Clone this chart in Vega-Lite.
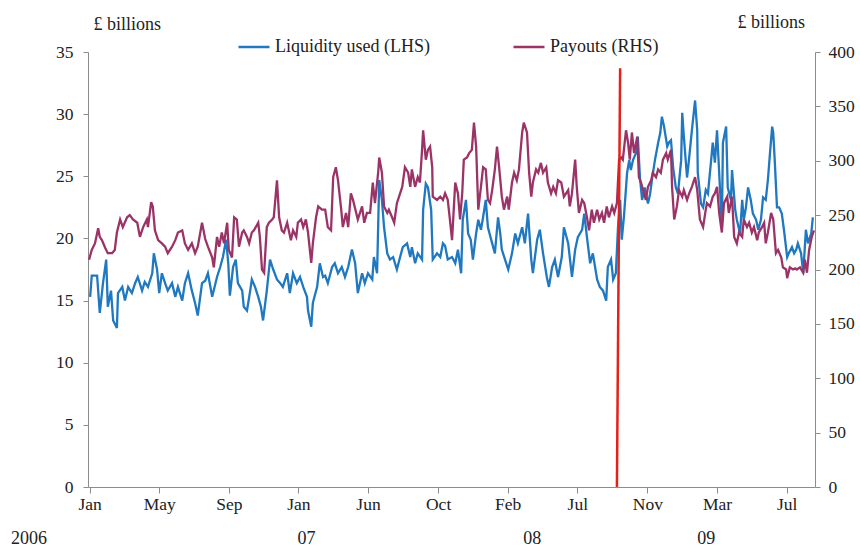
{
  "$schema": "https://vega.github.io/schema/vega-lite/v6.json",
  "width": 727,
  "height": 435,
  "autosize": {"type": "none"},
  "padding": {"left": 88, "top": 52, "right": 45, "bottom": 62},
  "background": "white",
  "config": {
    "view": {"stroke": null},
    "axis": {
      "labelFont": "Liberation Serif",
      "titleFont": "Liberation Serif",
      "labelFontSize": 17.5,
      "titleFontSize": 18,
      "labelColor": "#222222",
      "titleColor": "#222222",
      "titleFontWeight": "normal",
      "domainColor": "#8c8c8c",
      "tickColor": "#8c8c8c",
      "grid": false
    }
  },
  "datasets": {
    "liquidity": [
      {"date": "2006-01-05", "value": 15.3}, {"date": "2006-01-08", "value": 17.0}, {"date": "2006-01-18", "value": 17.0}, {"date": "2006-01-23", "value": 14.0},
      {"date": "2006-01-29", "value": 16.4}, {"date": "2006-02-04", "value": 18.3}, {"date": "2006-02-07", "value": 14.5}, {"date": "2006-02-13", "value": 15.8},
      {"date": "2006-02-17", "value": 13.4}, {"date": "2006-02-24", "value": 12.8}, {"date": "2006-02-26", "value": 15.6}, {"date": "2006-03-06", "value": 16.1},
      {"date": "2006-03-11", "value": 15.0}, {"date": "2006-03-17", "value": 16.1}, {"date": "2006-03-24", "value": 15.6}, {"date": "2006-03-30", "value": 16.4},
      {"date": "2006-04-04", "value": 16.9}, {"date": "2006-04-12", "value": 15.8}, {"date": "2006-04-17", "value": 16.5}, {"date": "2006-04-23", "value": 16.1},
      {"date": "2006-05-01", "value": 17.2}, {"date": "2006-05-04", "value": 18.8}, {"date": "2006-05-10", "value": 17.5}, {"date": "2006-05-14", "value": 15.6},
      {"date": "2006-05-19", "value": 17.2}, {"date": "2006-05-25", "value": 16.4}, {"date": "2006-05-30", "value": 15.8}, {"date": "2006-06-07", "value": 16.4},
      {"date": "2006-06-13", "value": 15.3}, {"date": "2006-06-18", "value": 16.1}, {"date": "2006-06-26", "value": 15.0}, {"date": "2006-07-01", "value": 16.4},
      {"date": "2006-07-07", "value": 17.2}, {"date": "2006-07-14", "value": 15.8}, {"date": "2006-07-20", "value": 14.8}, {"date": "2006-07-25", "value": 13.8},
      {"date": "2006-08-02", "value": 16.4}, {"date": "2006-08-08", "value": 16.6}, {"date": "2006-08-13", "value": 17.2}, {"date": "2006-08-21", "value": 15.3},
      {"date": "2006-08-30", "value": 16.9}, {"date": "2006-09-05", "value": 17.7}, {"date": "2006-09-10", "value": 18.5}, {"date": "2006-09-16", "value": 19.9},
      {"date": "2006-09-20", "value": 18.0}, {"date": "2006-09-23", "value": 15.4}, {"date": "2006-09-29", "value": 17.7}, {"date": "2006-10-04", "value": 18.3},
      {"date": "2006-10-08", "value": 16.4}, {"date": "2006-10-16", "value": 15.8}, {"date": "2006-10-19", "value": 14.5}, {"date": "2006-10-25", "value": 14.2},
      {"date": "2006-10-31", "value": 15.8}, {"date": "2006-11-03", "value": 16.7}, {"date": "2006-11-09", "value": 16.1}, {"date": "2006-11-15", "value": 15.3},
      {"date": "2006-11-20", "value": 14.5}, {"date": "2006-11-24", "value": 13.4}, {"date": "2006-12-01", "value": 15.8}, {"date": "2006-12-07", "value": 18.3},
      {"date": "2006-12-13", "value": 17.5}, {"date": "2006-12-20", "value": 16.7}, {"date": "2006-12-26", "value": 16.4}, {"date": "2006-12-31", "value": 16.1},
      {"date": "2007-01-08", "value": 17.2}, {"date": "2007-01-13", "value": 15.6}, {"date": "2007-01-19", "value": 17.2}, {"date": "2007-01-26", "value": 16.4},
      {"date": "2007-02-01", "value": 16.9}, {"date": "2007-02-07", "value": 16.1}, {"date": "2007-02-14", "value": 15.3}, {"date": "2007-02-16", "value": 14.2},
      {"date": "2007-02-22", "value": 12.9}, {"date": "2007-02-25", "value": 14.8}, {"date": "2007-03-05", "value": 16.1}, {"date": "2007-03-10", "value": 18.0},
      {"date": "2007-03-16", "value": 16.9}, {"date": "2007-03-20", "value": 17.0}, {"date": "2007-03-25", "value": 16.4}, {"date": "2007-04-02", "value": 17.7},
      {"date": "2007-04-07", "value": 18.0}, {"date": "2007-04-13", "value": 17.2}, {"date": "2007-04-20", "value": 17.7}, {"date": "2007-04-26", "value": 16.9},
      {"date": "2007-05-02", "value": 17.7}, {"date": "2007-05-09", "value": 19.1}, {"date": "2007-05-15", "value": 18.0}, {"date": "2007-05-20", "value": 15.6},
      {"date": "2007-05-28", "value": 17.2}, {"date": "2007-06-02", "value": 16.4}, {"date": "2007-06-08", "value": 17.2}, {"date": "2007-06-16", "value": 16.7},
      {"date": "2007-06-19", "value": 18.5}, {"date": "2007-06-25", "value": 17.2}, {"date": "2007-06-29", "value": 24.7}, {"date": "2007-07-04", "value": 23.1},
      {"date": "2007-07-08", "value": 20.9}, {"date": "2007-07-14", "value": 18.8}, {"date": "2007-07-19", "value": 18.3}, {"date": "2007-07-25", "value": 18.5},
      {"date": "2007-08-01", "value": 17.5}, {"date": "2007-08-07", "value": 18.5}, {"date": "2007-08-12", "value": 19.3}, {"date": "2007-08-20", "value": 19.6},
      {"date": "2007-08-26", "value": 18.5}, {"date": "2007-08-29", "value": 19.3}, {"date": "2007-09-04", "value": 18.0}, {"date": "2007-09-09", "value": 18.8},
      {"date": "2007-09-17", "value": 18.3}, {"date": "2007-09-19", "value": 22.3}, {"date": "2007-09-24", "value": 24.4}, {"date": "2007-09-28", "value": 24.1},
      {"date": "2007-10-04", "value": 22.3}, {"date": "2007-10-07", "value": 18.3}, {"date": "2007-10-15", "value": 18.8}, {"date": "2007-10-21", "value": 18.5},
      {"date": "2007-10-26", "value": 19.6}, {"date": "2007-10-30", "value": 19.4}, {"date": "2007-11-04", "value": 18.3}, {"date": "2007-11-12", "value": 18.5},
      {"date": "2007-11-18", "value": 18.0}, {"date": "2007-11-23", "value": 19.1}, {"date": "2007-11-29", "value": 17.2}, {"date": "2007-12-02", "value": 21.5},
      {"date": "2007-12-08", "value": 23.1}, {"date": "2007-12-12", "value": 20.4}, {"date": "2007-12-17", "value": 19.9}, {"date": "2007-12-21", "value": 18.3},
      {"date": "2007-12-27", "value": 20.4}, {"date": "2007-12-31", "value": 21.5}, {"date": "2008-01-05", "value": 20.7}, {"date": "2008-01-09", "value": 21.7},
      {"date": "2008-01-14", "value": 23.1}, {"date": "2008-01-18", "value": 20.9}, {"date": "2008-01-26", "value": 19.6}, {"date": "2008-01-31", "value": 18.8},
      {"date": "2008-02-06", "value": 21.7}, {"date": "2008-02-10", "value": 20.4}, {"date": "2008-02-13", "value": 19.1}, {"date": "2008-02-19", "value": 18.3},
      {"date": "2008-02-25", "value": 17.5}, {"date": "2008-03-03", "value": 18.8}, {"date": "2008-03-09", "value": 20.4}, {"date": "2008-03-14", "value": 19.6},
      {"date": "2008-03-22", "value": 20.9}, {"date": "2008-03-27", "value": 19.6}, {"date": "2008-04-02", "value": 22.0}, {"date": "2008-04-08", "value": 18.3},
      {"date": "2008-04-11", "value": 17.2}, {"date": "2008-04-19", "value": 19.9}, {"date": "2008-04-24", "value": 20.7}, {"date": "2008-04-30", "value": 18.8},
      {"date": "2008-05-07", "value": 16.9}, {"date": "2008-05-11", "value": 16.1}, {"date": "2008-05-17", "value": 17.7}, {"date": "2008-05-22", "value": 18.3},
      {"date": "2008-05-28", "value": 16.9}, {"date": "2008-06-04", "value": 18.5}, {"date": "2008-06-08", "value": 20.9}, {"date": "2008-06-16", "value": 19.6},
      {"date": "2008-06-23", "value": 16.9}, {"date": "2008-06-29", "value": 19.1}, {"date": "2008-07-04", "value": 20.1}, {"date": "2008-07-12", "value": 20.7},
      {"date": "2008-07-16", "value": 22.0}, {"date": "2008-07-21", "value": 20.1}, {"date": "2008-07-27", "value": 18.0}, {"date": "2008-08-01", "value": 18.8},
      {"date": "2008-08-09", "value": 16.7}, {"date": "2008-08-14", "value": 16.1}, {"date": "2008-08-20", "value": 15.8}, {"date": "2008-08-26", "value": 15.0},
      {"date": "2008-08-29", "value": 17.7}, {"date": "2008-09-04", "value": 18.3}, {"date": "2008-09-08", "value": 16.7}, {"date": "2008-09-13", "value": 17.2},
      {"date": "2008-09-17", "value": 20.9}, {"date": "2008-09-21", "value": 23.1}, {"date": "2008-09-24", "value": 19.9}, {"date": "2008-09-28", "value": 21.7},
      {"date": "2008-10-04", "value": 25.3}, {"date": "2008-10-08", "value": 26.3}, {"date": "2008-10-11", "value": 25.5}, {"date": "2008-10-15", "value": 26.3},
      {"date": "2008-10-21", "value": 26.9}, {"date": "2008-10-24", "value": 28.2}, {"date": "2008-10-28", "value": 24.9}, {"date": "2008-11-01", "value": 23.1},
      {"date": "2008-11-06", "value": 24.1}, {"date": "2008-11-12", "value": 22.8}, {"date": "2008-11-16", "value": 23.6}, {"date": "2008-11-20", "value": 24.9},
      {"date": "2008-11-25", "value": 26.3}, {"date": "2008-12-01", "value": 27.7}, {"date": "2008-12-05", "value": 28.5}, {"date": "2008-12-08", "value": 29.8},
      {"date": "2008-12-12", "value": 29.0}, {"date": "2008-12-18", "value": 27.4}, {"date": "2008-12-21", "value": 27.7}, {"date": "2008-12-25", "value": 27.9},
      {"date": "2008-12-29", "value": 25.7}, {"date": "2009-01-03", "value": 24.1}, {"date": "2009-01-07", "value": 23.6}, {"date": "2009-01-13", "value": 26.3},
      {"date": "2009-01-15", "value": 30.1}, {"date": "2009-01-18", "value": 28.2}, {"date": "2009-01-24", "value": 24.9}, {"date": "2009-01-28", "value": 26.5},
      {"date": "2009-02-02", "value": 28.7}, {"date": "2009-02-08", "value": 31.1}, {"date": "2009-02-12", "value": 28.7}, {"date": "2009-02-13", "value": 25.3},
      {"date": "2009-02-19", "value": 22.8}, {"date": "2009-02-23", "value": 22.5}, {"date": "2009-02-28", "value": 23.9}, {"date": "2009-03-04", "value": 23.6},
      {"date": "2009-03-10", "value": 26.3}, {"date": "2009-03-13", "value": 27.7}, {"date": "2009-03-17", "value": 26.1}, {"date": "2009-03-21", "value": 28.7},
      {"date": "2009-03-25", "value": 25.3}, {"date": "2009-03-30", "value": 20.9}, {"date": "2009-04-01", "value": 27.7}, {"date": "2009-04-07", "value": 29.0},
      {"date": "2009-04-10", "value": 24.1}, {"date": "2009-04-16", "value": 23.1}, {"date": "2009-04-18", "value": 25.5}, {"date": "2009-04-24", "value": 22.3},
      {"date": "2009-04-27", "value": 21.5}, {"date": "2009-05-03", "value": 20.4}, {"date": "2009-05-07", "value": 23.1}, {"date": "2009-05-10", "value": 21.5},
      {"date": "2009-05-14", "value": 22.5}, {"date": "2009-05-18", "value": 24.1}, {"date": "2009-05-23", "value": 23.1}, {"date": "2009-05-27", "value": 22.0},
      {"date": "2009-06-02", "value": 21.5}, {"date": "2009-06-06", "value": 20.7}, {"date": "2009-06-11", "value": 21.5}, {"date": "2009-06-15", "value": 23.3},
      {"date": "2009-06-20", "value": 23.1}, {"date": "2009-06-24", "value": 24.7}, {"date": "2009-06-28", "value": 26.9}, {"date": "2009-07-02", "value": 29.0},
      {"date": "2009-07-04", "value": 28.5}, {"date": "2009-07-07", "value": 26.1}, {"date": "2009-07-11", "value": 22.5}, {"date": "2009-07-15", "value": 22.5},
      {"date": "2009-07-20", "value": 22.0}, {"date": "2009-07-24", "value": 20.7}, {"date": "2009-07-30", "value": 18.5}, {"date": "2009-08-02", "value": 18.8},
      {"date": "2009-08-08", "value": 19.3}, {"date": "2009-08-12", "value": 18.8}, {"date": "2009-08-16", "value": 19.1}, {"date": "2009-08-19", "value": 19.6},
      {"date": "2009-08-25", "value": 18.8}, {"date": "2009-08-29", "value": 17.2}, {"date": "2009-09-03", "value": 20.7}, {"date": "2009-09-07", "value": 19.6},
      {"date": "2009-09-13", "value": 20.4}, {"date": "2009-09-16", "value": 21.7}
    ],
    "payouts": [
      {"date": "2006-01-03", "value": 209}, {"date": "2006-01-08", "value": 218}, {"date": "2006-01-14", "value": 224}, {"date": "2006-01-20", "value": 238},
      {"date": "2006-01-23", "value": 230}, {"date": "2006-01-27", "value": 227}, {"date": "2006-02-02", "value": 220}, {"date": "2006-02-07", "value": 215},
      {"date": "2006-02-15", "value": 215}, {"date": "2006-02-20", "value": 218}, {"date": "2006-02-24", "value": 234}, {"date": "2006-03-02", "value": 246},
      {"date": "2006-03-07", "value": 239}, {"date": "2006-03-15", "value": 248}, {"date": "2006-03-20", "value": 250}, {"date": "2006-03-26", "value": 246},
      {"date": "2006-04-03", "value": 243}, {"date": "2006-04-08", "value": 230}, {"date": "2006-04-14", "value": 239}, {"date": "2006-04-21", "value": 246},
      {"date": "2006-04-23", "value": 239}, {"date": "2006-04-29", "value": 262}, {"date": "2006-05-02", "value": 258}, {"date": "2006-05-06", "value": 236},
      {"date": "2006-05-12", "value": 227}, {"date": "2006-05-19", "value": 224}, {"date": "2006-05-25", "value": 221}, {"date": "2006-05-30", "value": 215},
      {"date": "2006-06-07", "value": 221}, {"date": "2006-06-13", "value": 227}, {"date": "2006-06-18", "value": 234}, {"date": "2006-06-26", "value": 236},
      {"date": "2006-07-01", "value": 224}, {"date": "2006-07-07", "value": 218}, {"date": "2006-07-14", "value": 224}, {"date": "2006-07-20", "value": 215},
      {"date": "2006-07-25", "value": 221}, {"date": "2006-08-02", "value": 243}, {"date": "2006-08-08", "value": 228}, {"date": "2006-08-13", "value": 221},
      {"date": "2006-08-21", "value": 211}, {"date": "2006-08-24", "value": 202}, {"date": "2006-08-30", "value": 230}, {"date": "2006-09-03", "value": 221},
      {"date": "2006-09-08", "value": 234}, {"date": "2006-09-12", "value": 224}, {"date": "2006-09-18", "value": 243}, {"date": "2006-09-21", "value": 218},
      {"date": "2006-09-27", "value": 211}, {"date": "2006-10-01", "value": 248}, {"date": "2006-10-06", "value": 246}, {"date": "2006-10-10", "value": 221},
      {"date": "2006-10-16", "value": 234}, {"date": "2006-10-19", "value": 236}, {"date": "2006-10-25", "value": 230}, {"date": "2006-10-29", "value": 224},
      {"date": "2006-11-03", "value": 234}, {"date": "2006-11-07", "value": 236}, {"date": "2006-11-15", "value": 243}, {"date": "2006-11-18", "value": 230},
      {"date": "2006-11-22", "value": 200}, {"date": "2006-11-26", "value": 197}, {"date": "2006-12-01", "value": 239}, {"date": "2006-12-05", "value": 243},
      {"date": "2006-12-11", "value": 246}, {"date": "2006-12-14", "value": 248}, {"date": "2006-12-20", "value": 282}, {"date": "2006-12-24", "value": 248},
      {"date": "2006-12-29", "value": 236}, {"date": "2007-01-02", "value": 234}, {"date": "2007-01-08", "value": 243}, {"date": "2007-01-11", "value": 236},
      {"date": "2007-01-15", "value": 227}, {"date": "2007-01-19", "value": 236}, {"date": "2007-01-25", "value": 230}, {"date": "2007-01-28", "value": 243},
      {"date": "2007-02-03", "value": 246}, {"date": "2007-02-07", "value": 239}, {"date": "2007-02-12", "value": 246}, {"date": "2007-02-16", "value": 234},
      {"date": "2007-02-22", "value": 206}, {"date": "2007-02-25", "value": 224}, {"date": "2007-03-03", "value": 248}, {"date": "2007-03-07", "value": 258},
      {"date": "2007-03-14", "value": 255}, {"date": "2007-03-20", "value": 255}, {"date": "2007-03-25", "value": 239}, {"date": "2007-03-31", "value": 236},
      {"date": "2007-04-04", "value": 285}, {"date": "2007-04-09", "value": 294}, {"date": "2007-04-13", "value": 282}, {"date": "2007-04-19", "value": 255},
      {"date": "2007-04-22", "value": 239}, {"date": "2007-04-28", "value": 252}, {"date": "2007-05-02", "value": 239}, {"date": "2007-05-07", "value": 270},
      {"date": "2007-05-11", "value": 264}, {"date": "2007-05-17", "value": 252}, {"date": "2007-05-20", "value": 246}, {"date": "2007-05-28", "value": 258},
      {"date": "2007-06-01", "value": 243}, {"date": "2007-06-06", "value": 252}, {"date": "2007-06-12", "value": 252}, {"date": "2007-06-17", "value": 280},
      {"date": "2007-06-21", "value": 261}, {"date": "2007-06-27", "value": 289}, {"date": "2007-06-29", "value": 303}, {"date": "2007-07-04", "value": 289},
      {"date": "2007-07-08", "value": 258}, {"date": "2007-07-14", "value": 252}, {"date": "2007-07-17", "value": 255}, {"date": "2007-07-23", "value": 248},
      {"date": "2007-07-27", "value": 243}, {"date": "2007-08-01", "value": 261}, {"date": "2007-08-05", "value": 267}, {"date": "2007-08-11", "value": 276},
      {"date": "2007-08-16", "value": 294}, {"date": "2007-08-22", "value": 289}, {"date": "2007-08-26", "value": 276}, {"date": "2007-08-29", "value": 292},
      {"date": "2007-09-04", "value": 276}, {"date": "2007-09-09", "value": 285}, {"date": "2007-09-13", "value": 280}, {"date": "2007-09-17", "value": 310},
      {"date": "2007-09-19", "value": 328}, {"date": "2007-09-24", "value": 301}, {"date": "2007-09-28", "value": 310}, {"date": "2007-10-02", "value": 313},
      {"date": "2007-10-06", "value": 294}, {"date": "2007-10-07", "value": 267}, {"date": "2007-10-15", "value": 264}, {"date": "2007-10-21", "value": 267},
      {"date": "2007-10-26", "value": 264}, {"date": "2007-10-30", "value": 270}, {"date": "2007-11-04", "value": 264}, {"date": "2007-11-08", "value": 246},
      {"date": "2007-11-12", "value": 227}, {"date": "2007-11-18", "value": 280}, {"date": "2007-11-23", "value": 270}, {"date": "2007-11-27", "value": 246},
      {"date": "2007-12-01", "value": 270}, {"date": "2007-12-04", "value": 301}, {"date": "2007-12-10", "value": 303}, {"date": "2007-12-14", "value": 307},
      {"date": "2007-12-19", "value": 310}, {"date": "2007-12-23", "value": 335}, {"date": "2007-12-27", "value": 313}, {"date": "2007-12-31", "value": 255},
      {"date": "2008-01-05", "value": 276}, {"date": "2008-01-09", "value": 294}, {"date": "2008-01-14", "value": 292}, {"date": "2008-01-18", "value": 264},
      {"date": "2008-01-22", "value": 261}, {"date": "2008-01-26", "value": 273}, {"date": "2008-01-31", "value": 292}, {"date": "2008-02-04", "value": 313},
      {"date": "2008-02-08", "value": 294}, {"date": "2008-02-13", "value": 267}, {"date": "2008-02-17", "value": 255}, {"date": "2008-02-23", "value": 267},
      {"date": "2008-02-26", "value": 255}, {"date": "2008-03-03", "value": 280}, {"date": "2008-03-07", "value": 289}, {"date": "2008-03-12", "value": 282},
      {"date": "2008-03-16", "value": 292}, {"date": "2008-03-22", "value": 326}, {"date": "2008-03-25", "value": 335}, {"date": "2008-03-31", "value": 326},
      {"date": "2008-04-04", "value": 289}, {"date": "2008-04-08", "value": 267}, {"date": "2008-04-11", "value": 280}, {"date": "2008-04-17", "value": 292},
      {"date": "2008-04-21", "value": 289}, {"date": "2008-04-26", "value": 298}, {"date": "2008-04-30", "value": 289}, {"date": "2008-05-06", "value": 294},
      {"date": "2008-05-09", "value": 280}, {"date": "2008-05-15", "value": 270}, {"date": "2008-05-19", "value": 276}, {"date": "2008-05-24", "value": 270},
      {"date": "2008-05-28", "value": 282}, {"date": "2008-06-03", "value": 280}, {"date": "2008-06-08", "value": 267}, {"date": "2008-06-16", "value": 273},
      {"date": "2008-06-19", "value": 258}, {"date": "2008-06-23", "value": 270}, {"date": "2008-06-29", "value": 301}, {"date": "2008-07-02", "value": 276},
      {"date": "2008-07-06", "value": 252}, {"date": "2008-07-12", "value": 264}, {"date": "2008-07-16", "value": 261}, {"date": "2008-07-21", "value": 248},
      {"date": "2008-07-25", "value": 236}, {"date": "2008-07-30", "value": 255}, {"date": "2008-08-03", "value": 243}, {"date": "2008-08-09", "value": 255},
      {"date": "2008-08-13", "value": 246}, {"date": "2008-08-18", "value": 252}, {"date": "2008-08-22", "value": 243}, {"date": "2008-08-27", "value": 258},
      {"date": "2008-08-31", "value": 248}, {"date": "2008-09-06", "value": 258}, {"date": "2008-09-10", "value": 252}, {"date": "2008-09-15", "value": 261},
      {"date": "2008-09-19", "value": 301}, {"date": "2008-09-23", "value": 303}, {"date": "2008-09-26", "value": 301}, {"date": "2008-10-02", "value": 328},
      {"date": "2008-10-06", "value": 316}, {"date": "2008-10-09", "value": 301}, {"date": "2008-10-13", "value": 326}, {"date": "2008-10-17", "value": 307},
      {"date": "2008-10-23", "value": 322}, {"date": "2008-10-26", "value": 285}, {"date": "2008-10-30", "value": 280}, {"date": "2008-11-03", "value": 273},
      {"date": "2008-11-08", "value": 264}, {"date": "2008-11-12", "value": 276}, {"date": "2008-11-18", "value": 282}, {"date": "2008-11-21", "value": 289},
      {"date": "2008-11-27", "value": 285}, {"date": "2008-12-01", "value": 292}, {"date": "2008-12-06", "value": 289}, {"date": "2008-12-10", "value": 301},
      {"date": "2008-12-16", "value": 307}, {"date": "2008-12-19", "value": 301}, {"date": "2008-12-25", "value": 310}, {"date": "2008-12-27", "value": 276},
      {"date": "2008-12-31", "value": 246}, {"date": "2009-01-05", "value": 258}, {"date": "2009-01-09", "value": 273}, {"date": "2009-01-15", "value": 267},
      {"date": "2009-01-18", "value": 273}, {"date": "2009-01-24", "value": 264}, {"date": "2009-01-28", "value": 270}, {"date": "2009-02-02", "value": 276},
      {"date": "2009-02-08", "value": 285}, {"date": "2009-02-12", "value": 273}, {"date": "2009-02-17", "value": 246}, {"date": "2009-02-23", "value": 239},
      {"date": "2009-02-27", "value": 252}, {"date": "2009-03-02", "value": 261}, {"date": "2009-03-08", "value": 258}, {"date": "2009-03-13", "value": 267},
      {"date": "2009-03-17", "value": 270}, {"date": "2009-03-21", "value": 276}, {"date": "2009-03-25", "value": 252}, {"date": "2009-03-30", "value": 234},
      {"date": "2009-04-03", "value": 261}, {"date": "2009-04-09", "value": 267}, {"date": "2009-04-12", "value": 252}, {"date": "2009-04-18", "value": 267},
      {"date": "2009-04-22", "value": 230}, {"date": "2009-04-27", "value": 224}, {"date": "2009-05-01", "value": 234}, {"date": "2009-05-07", "value": 230},
      {"date": "2009-05-10", "value": 246}, {"date": "2009-05-16", "value": 239}, {"date": "2009-05-20", "value": 243}, {"date": "2009-05-25", "value": 234},
      {"date": "2009-05-29", "value": 239}, {"date": "2009-06-04", "value": 227}, {"date": "2009-06-07", "value": 234}, {"date": "2009-06-13", "value": 239},
      {"date": "2009-06-17", "value": 243}, {"date": "2009-06-20", "value": 224}, {"date": "2009-06-24", "value": 234}, {"date": "2009-06-30", "value": 252},
      {"date": "2009-07-04", "value": 246}, {"date": "2009-07-09", "value": 215}, {"date": "2009-07-13", "value": 218}, {"date": "2009-07-19", "value": 211},
      {"date": "2009-07-22", "value": 202}, {"date": "2009-07-28", "value": 200}, {"date": "2009-07-30", "value": 192}, {"date": "2009-08-04", "value": 202},
      {"date": "2009-08-10", "value": 200}, {"date": "2009-08-14", "value": 201}, {"date": "2009-08-17", "value": 200}, {"date": "2009-08-23", "value": 202},
      {"date": "2009-08-29", "value": 197}, {"date": "2009-09-01", "value": 209}, {"date": "2009-09-05", "value": 197}, {"date": "2009-09-09", "value": 218},
      {"date": "2009-09-14", "value": 230}, {"date": "2009-09-18", "value": 236}
    ],
    "marker": [
      {"top": "2008-09-21", "bottom": "2008-09-15", "ytop": 33.7, "ybottom": 0}
    ]
  },
  "layer": [
    {
      "data": {"name": "liquidity"},
      "mark": {"type": "line", "strokeWidth": 2.3},
      "encoding": {
        "x": {
          "field": "date", "type": "temporal",
          "scale": {"domain": [{"year": 2006, "month": 1, "date": 1}, {"year": 2009, "month": 9, "date": 20}]},
          "axis": {
            "orient": "bottom", "title": null, "format": "%b", "labelFlush": false, "labelOverlap": false,
            "values": [
              {"year": 2006, "month": 1, "date": 4}, {"year": 2006, "month": 5, "date": 14}, {"year": 2006, "month": 9, "date": 21},
              {"year": 2007, "month": 1, "date": 29}, {"year": 2007, "month": 6, "date": 8}, {"year": 2007, "month": 10, "date": 17},
              {"year": 2008, "month": 2, "date": 24}, {"year": 2008, "month": 7, "date": 3}, {"year": 2008, "month": 11, "date": 11},
              {"year": 2009, "month": 3, "date": 21}, {"year": 2009, "month": 7, "date": 29}
            ],
            "tickSize": 6, "labelPadding": 2
          }
        },
        "y": {
          "field": "value", "type": "quantitative",
          "scale": {"domain": [0, 35]},
          "axis": {
            "orient": "left", "values": [0, 5, 10, 15, 20, 25, 30, 35],
            "tickSize": 5, "labelPadding": 10,
            "title": "£ billions", "titleAngle": 0, "titleAlign": "left", "titleBaseline": "alphabetic",
            "titleX": 5, "titleY": -23
          }
        },
        "color": {
          "datum": "Liquidity used (LHS)", "type": "nominal",
          "scale": {"domain": ["Liquidity used (LHS)", "Payouts (RHS)"], "range": ["#1f78c0", "#9b3367"]},
          "legend": {
            "title": null, "orient": "none", "legendX": 149, "legendY": -22, "direction": "horizontal",
            "symbolType": "stroke", "symbolSize": 960, "symbolStrokeWidth": 2.5,
            "labelFont": "Liberation Serif", "labelFontSize": 18, "labelColor": "#222222", "labelLimit": 400,
            "labelOffset": 4, "columnPadding": 78, "padding": 0
          }
        }
      }
    },
    {
      "data": {"name": "payouts"},
      "mark": {"type": "line", "strokeWidth": 2.3},
      "encoding": {
        "x": {
          "field": "date", "type": "temporal",
          "scale": {"domain": [{"year": 2006, "month": 1, "date": 1}, {"year": 2009, "month": 9, "date": 20}]},
          "axis": {
            "orient": "bottom", "title": null, "domain": false, "ticks": false, "tickSize": 0,
            "labelFlush": false, "labelOverlap": false, "labelFontSize": 18,
            "values": [
              {"year": 2006, "month": 1, "date": 2}, {"year": 2007, "month": 2, "date": 12},
              {"year": 2008, "month": 4, "date": 9}, {"year": 2009, "month": 2, "date": 28}
            ],
            "labelExpr": "year(datum.value) == 2006 ? '2006' : timeFormat(datum.value, '%y')",
            "labelOffset": {"condition": {"test": "year(datum.value) == 2006", "value": -60}, "value": 0},
            "labelPadding": 42
          }
        },
        "y": {
          "field": "value", "type": "quantitative",
          "scale": {"domain": [0, 400]},
          "axis": {
            "orient": "right", "values": [0, 50, 100, 150, 200, 250, 300, 350, 400],
            "tickSize": 5, "labelPadding": 8,
            "title": "£ billions", "titleAngle": 0, "titleAlign": "left", "titleBaseline": "alphabetic",
            "titleX": -78, "titleY": -25
          }
        },
        "color": {"datum": "Payouts (RHS)", "type": "nominal"}
      }
    },
    {
      "data": {"name": "marker"},
      "mark": {"type": "rule", "color": "#e32119", "strokeWidth": 2.5},
      "encoding": {
        "x": {
          "field": "top", "type": "temporal",
          "scale": {"domain": [{"year": 2006, "month": 1, "date": 1}, {"year": 2009, "month": 9, "date": 20}]},
          "axis": null
        },
        "x2": {"field": "bottom"},
        "y": {"field": "ytop", "type": "quantitative", "scale": {"domain": [0, 35]}, "axis": null},
        "y2": {"field": "ybottom"}
      }
    }
  ],
  "resolve": {
    "scale": {"y": "independent"},
    "axis": {"x": "independent", "y": "independent"}
  }
}
